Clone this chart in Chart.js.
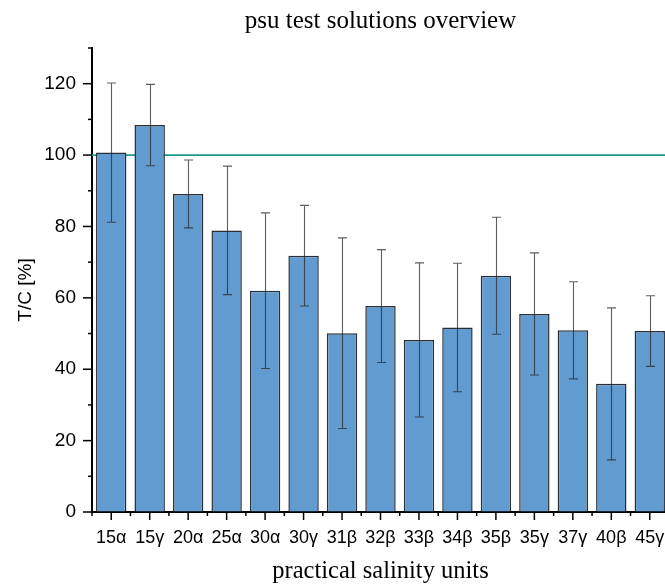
<!DOCTYPE html>
<html>
<head>
<meta charset="utf-8">
<script src="https://cdn.jsdelivr.net/npm/chart.js@4/dist/chart.umd.min.js"></script>
<style>
  html, body { margin: 0; padding: 0; background: #fff; overflow: hidden; }
  #wrap { position: relative; width: 760px; height: 584px; }
</style>
</head>
<body>
<div id="wrap"><canvas id="c"></canvas></div>
<script>
// Transmission / control ratio per practical-salinity test solution
const categories = ['15α','15γ','20α','25α','30α','30γ','31β','32β','33β','34β','35β','35γ','37γ','40β','45γ'];
const meanTC = [100.7, 108.4, 89.1, 78.9, 62.0, 71.8, 50.1, 57.7, 48.2, 51.7, 66.2, 55.5, 50.9, 35.9, 50.7];
const sdTC   = [19.5, 11.4, 9.5, 18.0, 21.8, 14.1, 26.7, 15.8, 21.6, 18.0, 16.4, 17.1, 13.6, 21.3, 9.9];
const referenceLevel = 100;
const yTicks = [0, 20, 40, 60, 80, 100, 120];
const yTitle = 'T/C [%]';

const serif = "'Liberation Serif', 'Times New Roman', serif";
const sans = "'Liberation Sans', Arial, sans-serif";

// Reference line behind the bars, error bars, outward tick marks and y title on top
const overlay = {
  id: 'overlay',
  beforeDatasetsDraw(chart) {
    const { ctx, chartArea: a, scales: { y } } = chart;
    const py = y.getPixelForValue(referenceLevel);
    ctx.save();
    ctx.strokeStyle = '#1b9c8b';
    ctx.lineWidth = 1.6;
    ctx.beginPath();
    ctx.moveTo(a.left, py);
    ctx.lineTo(a.right + 100, py);
    ctx.stroke();
    ctx.restore();
  },
  afterDatasetsDraw(chart) {
    const { ctx, chartArea: a, scales: { x, y } } = chart;
    const meta = chart.getDatasetMeta(0);
    ctx.save();
    // error bars
    ctx.strokeStyle = 'rgba(40,40,40,0.75)';
    ctx.lineWidth = 1.1;
    meta.data.forEach((bar, i) => {
      const cx = Math.round(bar.x) + 0.5;
      const top = y.getPixelForValue(meanTC[i] + sdTC[i]);
      const bot = y.getPixelForValue(meanTC[i] - sdTC[i]);
      ctx.beginPath();
      ctx.moveTo(cx, top); ctx.lineTo(cx, bot);
      ctx.moveTo(cx - 4.5, top); ctx.lineTo(cx + 4.5, top);
      ctx.moveTo(cx - 4.5, bot); ctx.lineTo(cx + 4.5, bot);
      ctx.stroke();
    });
    // y-axis ticks: major every 20, minor every 10
    ctx.strokeStyle = '#000';
    ctx.lineWidth = 1.5;
    for (let v = 0; v <= y.max; v += 10) {
      const py = y.getPixelForValue(v);
      const len = v % 20 === 0 ? 9 : 4;
      ctx.beginPath();
      ctx.moveTo(a.left - len, py); ctx.lineTo(a.left, py);
      ctx.stroke();
    }
    // x-axis ticks: major at category centres, minor at boundaries
    const half = (x.getPixelForValue(1) - x.getPixelForValue(0)) / 2;
    categories.forEach((c, i) => {
      const px = x.getPixelForValue(i);
      ctx.beginPath();
      ctx.moveTo(px, a.bottom); ctx.lineTo(px, a.bottom + 8);
      ctx.stroke();
      const bx = px - half;
      ctx.beginPath();
      ctx.moveTo(bx, a.bottom); ctx.lineTo(bx, a.bottom + 4);
      ctx.stroke();
    });
    // rotated y-axis title, sitting a little below the axis midpoint
    ctx.translate(26, (a.top + a.bottom) / 2 + 10);
    ctx.rotate(-Math.PI / 2);
    ctx.fillStyle = '#000';
    ctx.font = `19px ${sans}`;
    ctx.textAlign = 'center';
    ctx.textBaseline = 'middle';
    ctx.fillText(yTitle, 0, 0);
    ctx.restore();
  }
};

new Chart(document.getElementById('c'), {
  type: 'bar',
  data: {
    labels: categories,
    datasets: [{
      data: meanTC,
      backgroundColor: '#629bcf',
      borderColor: '#2a2f35',
      borderWidth: 1.5,
      barPercentage: 0.79,
      categoryPercentage: 1.0
    }]
  },
  options: {
    responsive: true,
    maintainAspectRatio: false,
    animation: false,
    devicePixelRatio: 1,
    layout: { padding: { left: 0, right: 91, top: 0, bottom: 0 } },
    plugins: {
      legend: { display: false },
      tooltip: { enabled: false },
      title: {
        display: true,
        fullSize: false,
        text: 'psu test solutions overview',
        color: '#000',
        font: { family: serif, size: 25, weight: 'normal', lineHeight: 1.2 },
        padding: { top: 6, bottom: 12 }
      }
    },
    scales: {
      x: {
        type: 'category',
        offset: true,
        grid: { display: true, drawOnChartArea: false, drawTicks: true, tickLength: 8, tickColor: 'rgba(0,0,0,0)' },
        border: { display: true, color: '#000', width: 2 },
        ticks: { color: '#000', font: { family: sans, size: 18 }, padding: 7, maxRotation: 0, autoSkip: false },
        title: {
          display: true,
          text: 'practical salinity units',
          color: '#000',
          font: { family: serif, size: 24.5, weight: 'normal', lineHeight: 1.2 },
          padding: { top: 0, bottom: -2 }
        },
        afterFit(scale) { scale.height = 72; }
      },
      y: {
        min: 0,
        max: 130,
        grid: { display: true, drawOnChartArea: false, drawTicks: true, tickLength: 9, tickColor: 'rgba(0,0,0,0)' },
        border: { display: true, color: '#000', width: 2 },
        ticks: {
          stepSize: 20,
          color: '#000',
          font: { family: sans, size: 19 },
          padding: 7,
          callback: (v) => (yTicks.includes(v) ? String(v) : '')
        },
        title: { display: false },
        afterFit(scale) { scale.width = 92; }
      }
    }
  },
  plugins: [overlay]
});
</script>
</body>
</html>
